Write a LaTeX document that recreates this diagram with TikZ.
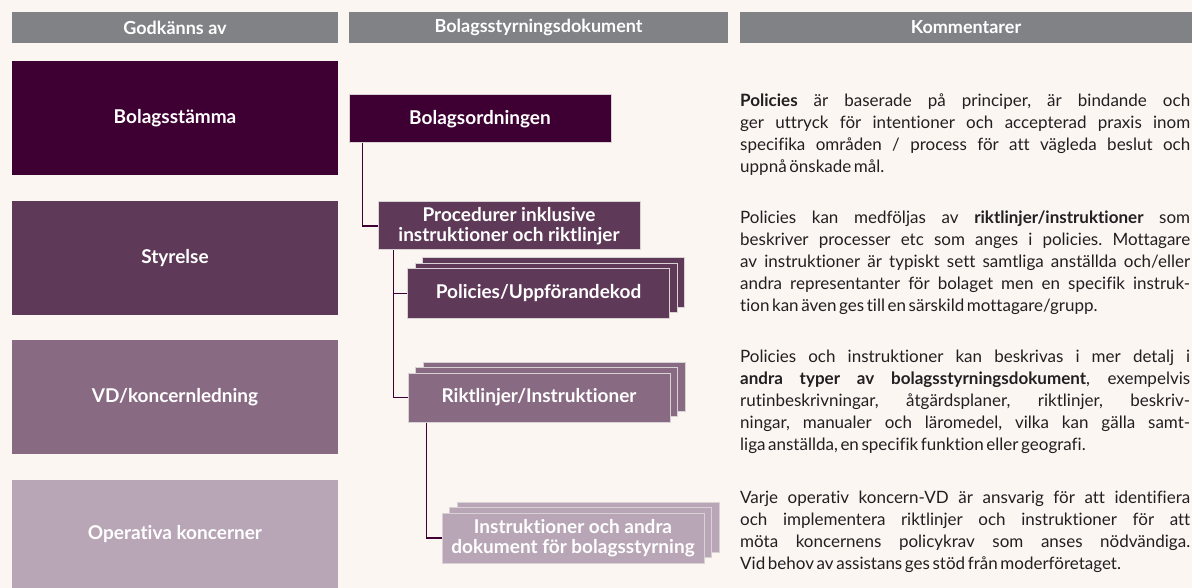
\documentclass[tikz,border=0pt]{standalone}
\usepackage{fontspec}
\setmainfont{Lato}[Ligatures=NoCommon]
\newfontfamily\notefont{Lato}[Ligatures=NoCommon, WordSpace={0.6,3,1.5}]
\usetikzlibrary{shadows}

\definecolor{bgcol}{HTML}{FBF6F2}
\definecolor{hdrcol}{HTML}{818286}
\definecolor{plumA}{HTML}{3E0032}
\definecolor{plumB}{HTML}{5E3A58}
\definecolor{plumC}{HTML}{896A83}
\definecolor{plumD}{HTML}{B8A6B6}
\definecolor{edgecol}{HTML}{D8D2D4}
\definecolor{textcol}{HTML}{231F20}

\newcommand{\jl}[1]{\hbox to 450pt{\rule[-6pt]{0pt}{22pt}#1}}
\newcommand{\jlast}[1]{\hbox to 450pt{\rule[-6pt]{0pt}{22pt}#1\hfil}}

\begin{document}
\frenchspacing
\begin{tikzpicture}[x=1pt,y=-1pt,
    hdr/.style={fill=hdrcol, text=white, font=\bfseries\fontsize{18}{20}\selectfont, minimum height=31pt, inner sep=0pt},
    level/.style={text=white, font=\bfseries\fontsize{19}{21}\selectfont, minimum width=326pt, minimum height=114pt, inner sep=0pt},
    doc/.style={draw=edgecol, line width=1pt, text=white, font=\bfseries\fontsize{19}{20}\selectfont, minimum width=262pt, minimum height=49pt, inner sep=0pt, align=center},
    stack/.style={double copy shadow={shadow xshift=7.5pt, shadow yshift=5.5pt}},
    link/.style={draw=plumA, line width=1.2pt},
    note/.style={anchor=north west, inner sep=0pt, font=\notefont\fontsize{17}{22}\selectfont, text=textcol}]
    \useasboundingbox (0,0) rectangle (1192,588);
    \fill[bgcol] (0,0) rectangle (1192,588);

    % column heads
    \node[hdr, minimum width=326pt] (hGodk) at (175,27.5) {Godkänns av};
    \node[hdr, minimum width=379pt] (hDok) at (538.5,27.5) {Bolagsstyrningsdokument};
    \node[hdr, minimum width=452pt] (hKomm) at (966,27.5) {Kommentarer};

    % who approves
    \node[level, fill=plumA] (stamma) at (175,118) {Bolagsstämma};
    \node[level, fill=plumB] (styrelse) at (175,258) {Styrelse};
    \node[level, fill=plumC] (vd) at (175,397) {VD/koncernledning};
    \node[level, fill=plumD, minimum height=108pt] (operativa) at (175,534) {Operativa koncerner};

    % documents
    \node[doc, fill=plumA, minimum height=48pt] (ordning) at (480,119) {Bolagsordningen};
    \node[doc, fill=plumB, minimum height=48pt] (procedur) at (509,226) {Procedurer inklusive\\instruktioner och riktlinjer};
    \node[doc, stack, fill=plumB] (policy) at (538.5,293.5) {Policies/Uppförandekod};
    \node[doc, stack, fill=plumC] (riktlinje) at (539,397.5) {Riktlinjer/Instruktioner};
    \node[doc, stack, fill=plumD, minimum height=50pt] (instrukt) at (573,538) {Instruktioner och andra\\dokument för bolagsstyrning};

    \draw[link] ([xshift=14pt]ordning.south west) |- (procedur.west);
    \draw[link] ([xshift=16pt]procedur.south west) |- (policy.west);
    \draw[link] ([xshift=16pt]procedur.south west) |- (riktlinje.west);
    \draw[link] ([xshift=19pt]riktlinje.south west) |- (instrukt.west);

    % comments
    \node[note] (komm1) at (740,90) {\vbox{%
        \jl{\textbf{Policies} är baserade på principer, är bindande och}
        \jl{ger uttryck för intentioner och accepterad praxis inom}
        \jl{specifika områden / process för att vägleda beslut och}
        \jlast{uppnå önskade mål.}}};
    \node[note] (komm2) at (740,207) {\vbox{%
        \jl{Policies kan medföljas av \textbf{riktlinjer/instruktioner} som}
        \jl{beskriver processer etc som anges i policies. Mottagare}
        \jl{av instruktioner är typiskt sett samtliga anställda och/eller}
        \jl{andra representanter för bolaget men en specifik instruk-}
        \jlast{tion kan även ges till en särskild mottagare/grupp.}}};
    \node[note] (komm3) at (740,346) {\vbox{%
        \jl{Policies och instruktioner kan beskrivas i mer detalj i}
        \jl{\textbf{andra typer av bolagsstyrningsdokument}, exempelvis}
        \jl{rutinbeskrivningar, åtgärdsplaner, riktlinjer, beskriv-}
        \jl{ningar, manualer och läromedel, vilka kan gälla samt-}
        \jlast{liga anställda, en specifik funktion eller geografi.}}};
    \node[note] (komm4) at (740,487) {\vbox{%
        \jl{Varje operativ koncern-VD är ansvarig för att identifiera}
        \jl{och implementera riktlinjer och instruktioner för att}
        \jl{möta koncernens policykrav som anses nödvändiga.}
        \jlast{Vid behov av assistans ges stöd från moderföretaget.}}};
\end{tikzpicture}
\end{document}
